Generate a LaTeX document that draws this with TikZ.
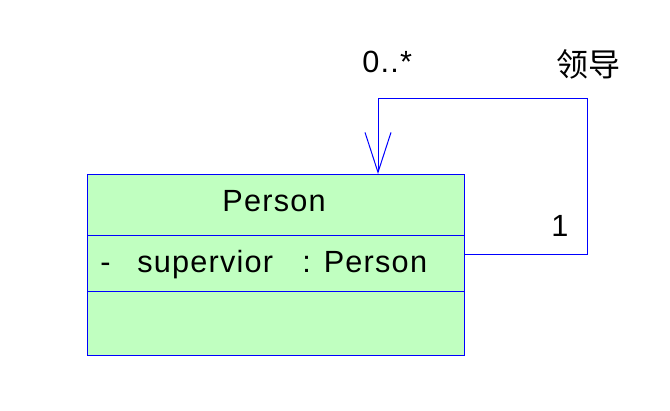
\documentclass[tikz,border=0pt]{standalone}
\usepackage{fontspec}
\setmainfont{Liberation Sans}
\newfontfamily\cjk{Noto Sans CJK SC}
\usetikzlibrary{calc,arrows.meta,positioning}
\definecolor{umlgreen}{RGB}{192,255,192}
\definecolor{umlblue}{RGB}{0,0,255}

\begin{document}
\begin{tikzpicture}[x=0.75pt,y=-0.75pt]
\tikzset{
  classbox/.style={draw=umlblue, fill=umlgreen, line width=0.75pt,
    minimum width=282.75pt, minimum height=135.75pt, inner sep=0pt, anchor=north west},
  sep/.style={draw=umlblue, line width=0.75pt},
  assoc/.style={draw=umlblue, line width=0.75pt, {Straight Barb[length=30pt,width=19.5pt]}-},
  lbl/.style={font=\fontsize{23}{26}\selectfont\addfontfeatures{LetterSpace=4}, inner sep=0pt},
  cjklbl/.style={font=\cjk\fontsize{24}{28}\selectfont, inner sep=0pt}
}
\useasboundingbox (0,0) rectangle (670,410);
% class box
\node[classbox] (person) at (87,174) {};
\draw[sep] ($(person.north west)+(0,61)$) -- ($(person.north east)+(0,61)$);
\draw[sep] ($(person.north west)+(0,117)$) -- ($(person.north east)+(0,117)$);
\node[lbl, anchor=base] (name) at (274,211) {Person};
\node[lbl, anchor=base west] (vis) at (100,272) {-};
\node[lbl, anchor=base west] (attr) at (137,272) {supervior};
\node[lbl, anchor=base west] (type) at (302,272) {: Person};
% self association
\coordinate (src) at ($(person.north east)+(0,80)$);
\coordinate (dst) at ($(person.north west)+(291,0)$);
\coordinate (c1) at ($(src)+(122,0)$);
\coordinate (c2) at ($(c1)+(0,-156)$);
\draw[assoc] (dst) -- (dst |- c2) -- (c2) -- (c1) -- (src);
\node[lbl, anchor=base west] (mult) at (362,72) {0..*};
\node[cjklbl, anchor=west] (role) at (556,64) {领导};
\node[lbl, anchor=base west] (one) at (551,236) {1};
\end{tikzpicture}
\end{document}
